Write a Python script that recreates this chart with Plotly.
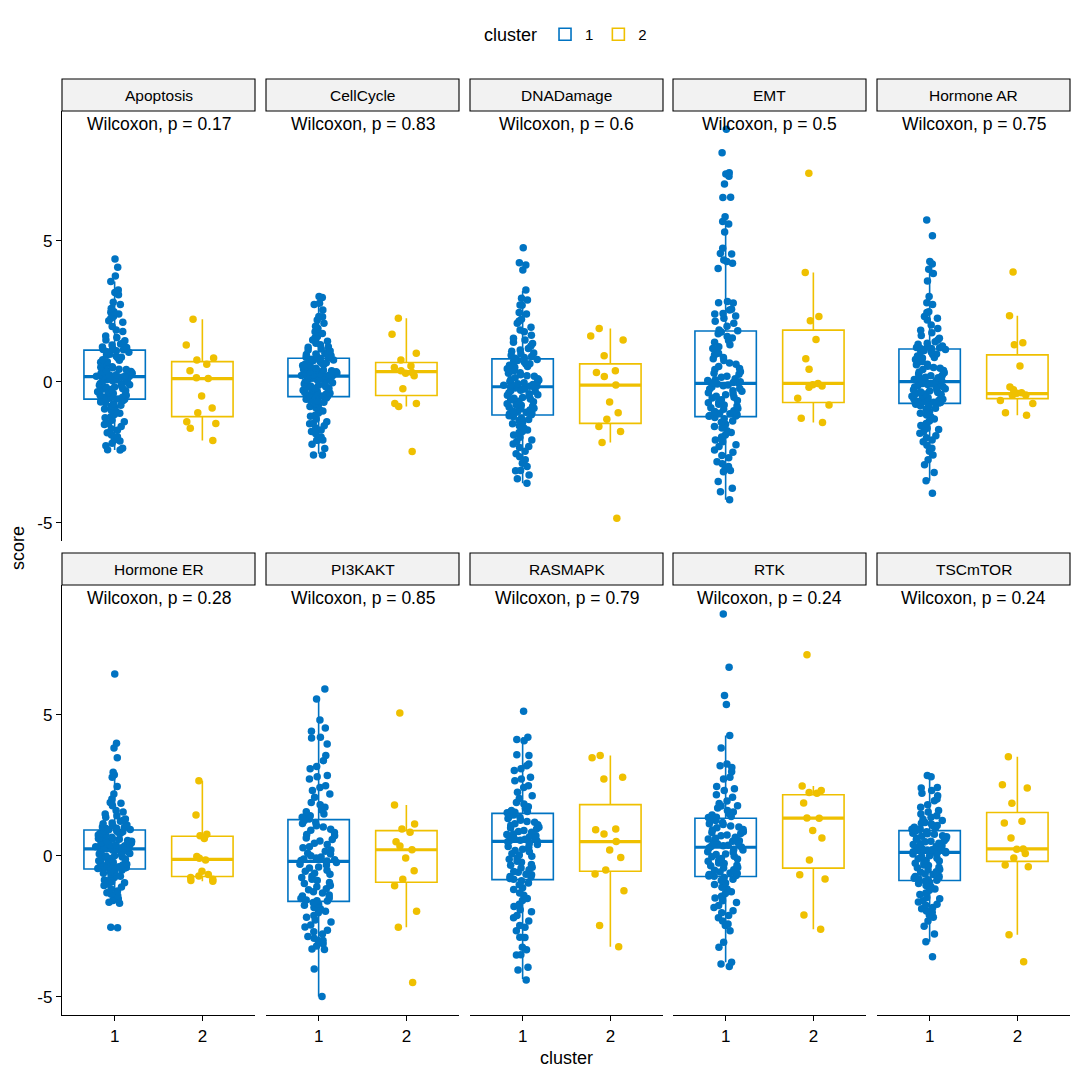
import plotly.graph_objects as go

# ---------------- data ----------------
FACETS = ["Apoptosis", "CellCycle", "DNADamage", "EMT", "Hormone AR",
          "Hormone ER", "PI3KAKT", "RASMAPK", "RTK", "TSCmTOR"]
PVALS = ["0.17", "0.83", "0.6", "0.5", "0.75", "0.28", "0.85", "0.79", "0.24", "0.24"]
CLUSTERS = ["1", "2"]
X_TICKS = [1, 2]
Y_TICK_VALS = [-5, 0, 5]
Y_TICK_TEXT = ["-5", "0", "5"]

# box statistics
C1_Q1 = [-0.61, -0.52, -1.17, -1.23, -0.76, -0.46, -1.61, -0.84, -0.73, -0.87]
C1_MED = [0.19, 0.21, -0.17, -0.05, 0.01, 0.25, -0.19, 0.52, 0.31, 0.13]
C1_Q3 = [1.13, 0.84, 0.82, 1.81, 1.17, 0.92, 1.29, 1.51, 1.34, 0.90]
C1_LO = [-2.41, -2.55, -3.59, -4.18, -3.50, -1.68, -4.98, -4.36, -3.77, -3.04]
C1_HI = [3.56, 2.79, 3.23, 5.86, 4.00, 2.95, 5.57, 4.21, 4.27, 2.85]

C2_Q1 = [-1.23, -0.48, -1.47, -0.73, -0.59, -0.73, -0.93, -0.54, -0.43, -0.19]
C2_MED = [0.12, 0.37, -0.11, -0.05, -0.41, -0.12, 0.22, 0.51, 1.34, 0.25]
C2_Q3 = [0.72, 0.69, 0.64, 1.84, 0.96, 0.70, 0.90, 1.82, 2.17, 1.54]
C2_LO = [-2.08, -0.87, -2.15, -1.44, -1.18, -0.90, -2.53, -3.22, -2.60, -2.79]
C2_HI = [2.22, 2.26, 1.90, 3.88, 2.35, 2.67, 1.81, 3.56, 2.48, 3.52]

# individual scores, cluster 1
APOPTOSIS_1 = [4.36, 4.07, 3.76, 3.56, 3.26, 3.17, 3.09, 2.83, 2.75, 2.61, 2.49, 2.47, 2.41, 2.32, 2.26, 2.17,
               2.12, 1.97, 1.84, 1.79, 1.63, 1.58, 1.49, 1.46, 1.37, 1.35, 1.31, 1.24, 1.22, 1.19, 1.15, 1.14,
               1.11, 1.07, 1.05, 0.98, 0.96, 0.91, 0.88, 0.86, 0.79, 0.77, 0.72, 0.70, 0.66, 0.61, 0.60, 0.54,
               0.52, 0.50, 0.45, 0.44, 0.39, 0.37, 0.36, 0.31, 0.30, 0.28, 0.26, 0.25, 0.22, 0.21, 0.20, 0.19,
               0.17, 0.16, 0.12, 0.09, 0.08, 0.04, 0.03, -0.01, -0.05, -0.06, -0.10, -0.12, -0.15, -0.18, -0.19,
               -0.24, -0.26, -0.27, -0.31, -0.34, -0.35, -0.39, -0.41, -0.44, -0.47, -0.48, -0.52, -0.54, -0.55,
               -0.58, -0.60, -0.61, -0.64, -0.66, -0.71, -0.74, -0.77, -0.83, -0.86, -0.90, -0.96, -1.00, -1.04,
               -1.11, -1.15, -1.23, -1.27, -1.36, -1.41, -1.47, -1.51, -1.58, -1.66, -1.71, -1.80, -1.88, -1.94,
               -2.06, -2.09, -2.17, -2.26, -2.35, -2.40, -2.41]
CELLCYCLE_1 = [3.03, 3.00, 2.79, 2.75, 2.55, 2.32, 2.31, 2.20, 2.08, 1.98, 1.90, 1.78, 1.72, 1.61, 1.57, 1.49,
               1.44, 1.37, 1.32, 1.25, 1.23, 1.17, 1.13, 1.10, 1.07, 1.01, 0.99, 0.97, 0.93, 0.90, 0.88, 0.86,
               0.83, 0.81, 0.78, 0.76, 0.75, 0.71, 0.68, 0.66, 0.64, 0.61, 0.59, 0.58, 0.55, 0.52, 0.50, 0.49,
               0.46, 0.43, 0.42, 0.40, 0.37, 0.36, 0.35, 0.32, 0.31, 0.30, 0.28, 0.26, 0.25, 0.24, 0.23, 0.22,
               0.20, 0.18, 0.15, 0.13, 0.12, 0.09, 0.06, 0.05, 0.01, -0.02, -0.03, -0.07, -0.10, -0.12, -0.14,
               -0.17, -0.20, -0.22, -0.23, -0.27, -0.29, -0.30, -0.34, -0.36, -0.37, -0.40, -0.42, -0.43, -0.46,
               -0.48, -0.50, -0.51, -0.54, -0.57, -0.61, -0.64, -0.67, -0.72, -0.76, -0.80, -0.87, -0.91, -0.99,
               -1.03, -1.10, -1.17, -1.22, -1.31, -1.41, -1.47, -1.48, -1.55, -1.63, -1.70, -1.76, -1.84, -1.95,
               -2.06, -2.06, -2.07, -2.21, -2.36, -2.59, -2.59]
DNADAMAGE_1 = [4.76, 4.23, 4.15, 3.97, 3.26, 2.97, 2.91, 2.73, 2.72, 2.46, 2.41, 2.22, 2.16, 2.08, 1.94, 1.84,
               1.78, 1.66, 1.55, 1.49, 1.41, 1.36, 1.28, 1.19, 1.13, 1.09, 1.03, 0.99, 0.95, 0.90, 0.87, 0.84,
               0.80, 0.76, 0.74, 0.70, 0.65, 0.63, 0.59, 0.55, 0.52, 0.47, 0.44, 0.41, 0.36, 0.33, 0.31, 0.26,
               0.22, 0.20, 0.15, 0.11, 0.08, 0.06, 0.02, -0.01, -0.03, -0.06, -0.09, -0.10, -0.12, -0.14, -0.15,
               -0.16, -0.19, -0.21, -0.25, -0.29, -0.31, -0.34, -0.38, -0.42, -0.45, -0.47, -0.51, -0.55, -0.58,
               -0.60, -0.64, -0.68, -0.70, -0.73, -0.77, -0.81, -0.83, -0.86, -0.90, -0.93, -0.95, -0.99, -1.03,
               -1.05, -1.07, -1.11, -1.14, -1.16, -1.20, -1.23, -1.29, -1.33, -1.37, -1.44, -1.48, -1.55, -1.63,
               -1.70, -1.76, -1.79, -1.88, -1.96, -2.06, -2.11, -2.20, -2.29, -2.32, -2.46, -2.55, -2.65, -2.76,
               -2.88, -3.00, -3.14, -3.15, -3.30, -3.43, -3.59]
EMT_1 = [8.96, 8.13, 7.42, 7.38, 7.30, 7.02, 6.55, 6.54, 5.86, 5.69, 5.60, 5.32, 4.74, 4.56, 4.54, 4.33,
         4.27, 4.21, 4.02, 2.85, 2.81, 2.80, 2.58, 2.55, 2.43, 2.41, 2.34, 2.26, 2.15, 2.08, 1.98, 1.84, 1.82,
         1.77, 1.71, 1.61, 1.56, 1.47, 1.41, 1.32, 1.25, 1.19, 1.09, 1.02, 0.96, 0.87, 0.82, 0.76, 0.67,
         0.63, 0.55, 0.48, 0.44, 0.36, 0.31, 0.27, 0.20, 0.17, 0.11, 0.08, 0.05, 0.01, -0.02, -0.03, -0.04,
         -0.07, -0.11, -0.13, -0.18, -0.23, -0.25, -0.31, -0.33, -0.38, -0.43, -0.45, -0.51, -0.54, -0.57,
         -0.63, -0.66, -0.71, -0.74, -0.79, -0.82, -0.85, -0.91, -0.94, -0.97, -1.02, -1.05, -1.11, -1.13,
         -1.16, -1.19, -1.21, -1.22, -1.26, -1.30, -1.38, -1.43, -1.50, -1.58, -1.63, -1.73, -1.79, -1.88,
         -1.95, -2.06, -2.12, -2.23, -2.29, -2.41, -2.49, -2.61, -2.69, -2.83, -2.90, -3.00, -3.06, -3.14,
         -3.18, -3.53, -3.77, -3.89, -4.18]
HORMONE_AR_1 = [5.74, 5.19, 4.27, 4.18, 4.00, 3.85, 3.58, 3.03, 2.81, 2.75, 2.49, 2.46, 2.32, 2.26, 2.20,
                2.02, 1.90, 1.83, 1.75, 1.65, 1.55, 1.49, 1.43, 1.37, 1.34, 1.28, 1.26, 1.22, 1.21, 1.19, 1.18,
                1.15, 1.12, 1.07, 1.05, 0.99, 0.97, 0.92, 0.87, 0.85, 0.80, 0.75, 0.73, 0.68, 0.63, 0.61, 0.56,
                0.51, 0.49, 0.44, 0.41, 0.35, 0.33, 0.28, 0.24, 0.22, 0.17, 0.15, 0.11, 0.09, 0.06, 0.04, 0.02,
                -0.01, -0.05, -0.07, -0.09, -0.13, -0.16, -0.18, -0.20, -0.24, -0.28, -0.29, -0.32, -0.36, -0.37,
                -0.41, -0.43, -0.44, -0.48, -0.51, -0.53, -0.56, -0.58, -0.60, -0.61, -0.64, -0.66, -0.69, -0.70,
                -0.72, -0.73, -0.74, -0.75, -0.79, -0.84, -0.87, -0.93, -0.97, -1.05, -1.11, -1.17, -1.23, -1.31,
                -1.38, -1.47, -1.54, -1.64, -1.69, -1.76, -1.82, -1.91, -1.98, -2.06, -2.12, -2.24, -2.35, -2.46,
                -2.59, -2.76, -2.94, -3.21, -3.50, -3.95]
HORMONE_ER_1 = [6.45, 4.00, 3.83, 3.48, 2.97, 2.88, 2.79, 2.46, 2.20, 2.02, 1.90, 1.87, 1.78, 1.61, 1.56,
                1.49, 1.43, 1.37, 1.31, 1.27, 1.23, 1.17, 1.14, 1.10, 1.08, 1.03, 1.01, 0.98, 0.97, 0.94, 0.93,
                0.90, 0.89, 0.86, 0.83, 0.81, 0.80, 0.77, 0.74, 0.73, 0.70, 0.67, 0.66, 0.62, 0.60, 0.59, 0.55,
                0.53, 0.52, 0.48, 0.46, 0.45, 0.42, 0.40, 0.39, 0.36, 0.34, 0.33, 0.31, 0.29, 0.28, 0.27, 0.26,
                0.23, 0.21, 0.20, 0.16, 0.14, 0.12, 0.09, 0.07, 0.04, 0.01, -0.01, -0.04, -0.06, -0.09, -0.12,
                -0.13, -0.17, -0.18, -0.22, -0.24, -0.26, -0.29, -0.31, -0.32, -0.35, -0.37, -0.38, -0.41, -0.42,
                -0.43, -0.44, -0.45, -0.48, -0.51, -0.55, -0.57, -0.61, -0.64, -0.69, -0.72, -0.76, -0.81, -0.85,
                -0.91, -0.95, -0.99, -1.05, -1.10, -1.17, -1.24, -1.30, -1.36, -1.41, -1.47, -1.53, -1.58, -1.64,
                -1.68, -2.53, -2.55]
PI3KAKT_1 = [5.92, 5.57, 4.82, 4.54, 4.42, 4.21, 4.18, 3.97, 3.56, 3.38, 3.17, 3.09, 2.85, 2.81, 2.73, 2.49,
             2.43, 2.32, 2.20, 2.08, 1.90, 1.82, 1.73, 1.63, 1.57, 1.49, 1.43, 1.37, 1.34, 1.31,
             1.26, 1.19, 1.15, 1.07, 1.03, 0.95, 0.91, 0.83, 0.76, 0.72, 0.64, 0.58, 0.53, 0.45, 0.41, 0.33,
             0.29, 0.21, 0.17, 0.10, 0.07, 0.01, -0.04, -0.07, -0.11, -0.13, -0.16, -0.18,
             -0.23, -0.29, -0.32, -0.39, -0.43, -0.51, -0.54, -0.61, -0.65, -0.72, -0.76, -0.83, -0.87, -0.94,
             -0.98, -1.05, -1.09, -1.16, -1.20, -1.27, -1.31, -1.38, -1.42, -1.49, -1.51, -1.56, -1.59, -1.60,
             -1.65, -1.71, -1.75, -1.83, -1.87, -1.96, -2.01, -2.11, -2.17, -2.27, -2.34, -2.45, -2.52, -2.63,
             -2.69, -2.77, -2.86, -2.92, -3.00, -3.00, -3.11, -3.19, -3.30, -3.32, -4.01, -4.98]
RASMAPK_1 = [5.13, 4.21, 4.13, 4.09, 3.59, 3.56, 3.26, 3.20, 3.09, 3.03, 2.79, 2.73, 2.67, 2.49, 2.43, 2.26,
             2.14, 2.04, 1.90, 1.84, 1.75, 1.69, 1.61, 1.58, 1.55, 1.53,
             1.48, 1.45, 1.39, 1.36, 1.33, 1.27, 1.22, 1.20, 1.14, 1.11, 1.08, 1.02, 0.99, 0.96, 0.90, 0.87,
             0.84, 0.78, 0.76, 0.72, 0.68, 0.66, 0.62, 0.60, 0.59, 0.56, 0.54, 0.53,
             0.50, 0.44, 0.41, 0.34, 0.31, 0.24, 0.19, 0.15, 0.08, 0.03, -0.01, -0.08, -0.12, -0.19, -0.22,
             -0.30, -0.33, -0.40, -0.43, -0.49, -0.55, -0.58, -0.65, -0.67, -0.73, -0.75, -0.80, -0.83,
             -0.88, -0.96, -1.02, -1.13, -1.19, -1.31, -1.39, -1.51, -1.58, -1.71, -1.79, -1.91, -1.98, -2.11,
             -2.19, -2.31, -2.47, -2.53, -2.65, -2.88, -2.89, -3.24, -3.33, -3.50, -3.51, -3.95, -4.04, -4.40]
RTK_1 = [8.58, 6.69, 5.69, 5.37, 4.27, 3.83, 3.26, 3.20, 3.14, 2.99, 2.79, 2.73, 2.46, 2.38, 2.32, 2.17,
         2.08, 1.95, 1.86, 1.78, 1.77, 1.70, 1.61, 1.56, 1.49, 1.45, 1.40, 1.37, 1.36,
         1.31, 1.26, 1.24, 1.19, 1.14, 1.12, 1.06, 1.03, 1.00, 0.94, 0.92, 0.86, 0.83, 0.80, 0.74, 0.72,
         0.66, 0.63, 0.60, 0.54, 0.52, 0.47, 0.45, 0.43, 0.38, 0.36, 0.34, 0.32,
         0.28, 0.23, 0.21, 0.15, 0.13, 0.07, 0.05, -0.01, -0.03, -0.09, -0.11, -0.17, -0.19, -0.25, -0.27,
         -0.33, -0.35, -0.41, -0.43, -0.49, -0.51, -0.57, -0.60, -0.62, -0.66, -0.69, -0.71, -0.72,
         -0.76, -0.83, -0.87, -0.96, -1.01, -1.11, -1.17, -1.27, -1.33, -1.43, -1.49, -1.59, -1.65, -1.76,
         -1.83, -1.94, -2.01, -2.11, -2.19, -2.31, -2.41, -2.47, -2.65, -3.06, -3.24, -3.77, -3.83, -3.92]
TSCMTOR_1 = [2.85, 2.81, 2.43, 2.41, 2.32, 2.22, 2.14, 2.02, 1.96, 1.82, 1.73, 1.61, 1.56, 1.49, 1.43, 1.37,
             1.30, 1.26, 1.19, 1.16, 1.13, 1.08, 1.06, 1.02, 1.00, 0.96, 0.95, 0.93, 0.92,
             0.88, 0.86, 0.81, 0.79, 0.77, 0.72, 0.70, 0.68, 0.63, 0.61, 0.59, 0.54, 0.52, 0.50, 0.45, 0.43,
             0.41, 0.36, 0.34, 0.32, 0.27, 0.26, 0.22, 0.21, 0.19, 0.16, 0.15, 0.14,
             0.11, 0.07, 0.06, 0.01, -0.02, -0.08, -0.10, -0.16, -0.18, -0.24, -0.26, -0.32, -0.34, -0.40,
             -0.42, -0.48, -0.50, -0.56, -0.58, -0.64, -0.66, -0.72, -0.73, -0.77, -0.79, -0.82, -0.84, -0.86,
             -0.90, -0.95, -0.98, -1.05, -1.09, -1.17, -1.22, -1.31, -1.37, -1.47, -1.52, -1.59, -1.63, -1.71,
             -1.75, -1.83, -1.87, -1.95, -2.00, -2.09, -2.17, -2.31, -2.49, -2.77, -3.04, -3.57]

# individual scores, cluster 2
APOPTOSIS_2 = [2.22, 1.31, 0.85, 0.78, 0.63, 0.40, 0.15, 0.12, -0.50, -0.92, -1.09, -1.41, -1.47, -1.64, -2.08]
CELLCYCLE_2 = [2.26, 1.69, 1.02, 0.78, 0.57, 0.51, 0.40, 0.34, 0.31, 0.22, -0.24, -0.76, -0.76, -0.87, -2.47]
DNADAMAGE_2 = [1.90, 1.63, 1.49, 0.93, 0.40, 0.34, 0.19, -0.11, -0.71, -1.09, -1.32, -1.58, -1.76, -2.15, -4.83]
EMT_2 = [7.40, 3.88, 2.32, 2.17, 1.51, 0.82, 0.45, -0.05, -0.10, -0.14, -0.19, -0.58, -0.82, -1.29, -1.44]
HORMONE_AR_2 = [3.90, 2.35, 1.39, 1.32, 0.57, -0.18, -0.28, -0.38, -0.40, -0.46, -0.47, -0.66, -0.76, -1.09, -1.18]
HORMONE_ER_2 = [2.67, 1.45, 0.77, 0.72, 0.62, -0.02, -0.08, -0.14, -0.54, -0.66, -0.71, -0.76, -0.83, -0.87, -0.90]
PI3KAKT_2 = [5.07, 1.81, 1.13, 0.96, 0.84, 0.50, 0.35, 0.22, -0.07, -0.52, -0.83, -1.06, -1.96, -2.53, -4.49]
RASMAPK_2 = [3.56, 3.48, 2.79, 2.73, 0.96, 0.93, 0.78, 0.51, 0.21, -0.05, -0.50, -0.64, -1.23, -2.47, -3.22]
RTK_2 = [7.14, 2.48, 2.32, 2.25, 2.22, 1.88, 1.35, 1.34, 0.90, 0.64, -0.14, -0.67, -0.82, -2.09, -2.60]
TSCMTOR_2 = [3.52, 2.53, 2.41, 1.87, 1.23, 1.17, 0.64, 0.25, 0.24, 0.09, -0.07, -0.32, -0.38, -2.79, -3.75]

SCORES_1 = [APOPTOSIS_1, CELLCYCLE_1, DNADAMAGE_1, EMT_1, HORMONE_AR_1,
            HORMONE_ER_1, PI3KAKT_1, RASMAPK_1, RTK_1, TSCMTOR_1]
SCORES_2 = [APOPTOSIS_2, CELLCYCLE_2, DNADAMAGE_2, EMT_2, HORMONE_AR_2,
            HORMONE_ER_2, PI3KAKT_2, RASMAPK_2, RTK_2, TSCMTOR_2]

# ---------------- style ----------------
W = H = 1080
OFF = 8  # page body margin of the html page
FONT = "Liberation Sans, Arial, Helvetica, sans-serif"
COLORS = ["#0073C2", "#EFC000"]
COL_PX = [(62, 255), (266, 459), (470, 663), (673, 866), (877, 1070)]
ROW_PX = [(111, 541), (585, 1015)]
STRIP_PX = 32
Y_RANGE = [-5.64, 9.61]
X_RANGE = [0.4, 2.6]


def px(v):
    return (v - OFF) / W


def py(v):
    return 1 - (v - OFF) / H


fig = go.Figure()
layout = dict(
    width=W, height=H,
    margin=dict(l=0, r=0, t=0, b=0),
    paper_bgcolor="white", plot_bgcolor="white",
    font=dict(family=FONT, color="black"),
    showlegend=True, boxmode="overlay",
    shapes=[], annotations=[],
)

for i, name in enumerate(FACETS):
    r, c = divmod(i, 5)
    k = i + 1
    sx = "" if k == 1 else str(k)
    xref, yref = "x" + sx, "y" + sx
    x0, x1 = COL_PX[c]
    ytop, ybot = ROW_PX[r]

    layout["xaxis" + sx] = dict(
        domain=[px(x0), px(x1)], range=X_RANGE, anchor=yref, fixedrange=True,
        showgrid=False, zeroline=False,
        showline=(r == 1), linecolor="black", linewidth=1.3,
        ticks="outside" if r == 1 else "", ticklen=5, tickwidth=1.3, tickcolor="black",
        tickvals=X_TICKS, ticktext=CLUSTERS, showticklabels=(r == 1),
        tickfont=dict(size=17, color="black", family=FONT),
    )
    layout["yaxis" + sx] = dict(
        domain=[py(ybot), py(ytop)], range=Y_RANGE, anchor=xref, fixedrange=True,
        showgrid=False, zeroline=False,
        showline=(c == 0), linecolor="black", linewidth=1.3,
        ticks="outside" if c == 0 else "", ticklen=5, tickwidth=1.3, tickcolor="black",
        tickvals=Y_TICK_VALS, ticktext=Y_TICK_TEXT, showticklabels=(c == 0),
        tickfont=dict(size=17, color="black", family=FONT),
    )

    stats = [
        (C1_Q1[i], C1_MED[i], C1_Q3[i], C1_LO[i], C1_HI[i], SCORES_1[i]),
        (C2_Q1[i], C2_MED[i], C2_Q3[i], C2_LO[i], C2_HI[i], SCORES_2[i]),
    ]
    for j, (q1, med, q3, lo, hi, vals) in enumerate(stats):
        col = COLORS[j]
        xpos = X_TICKS[j]
        # box (precomputed statistics)
        fig.add_trace(go.Box(
            x=[xpos], q1=[q1], median=[med], q3=[q3], lowerfence=[lo], upperfence=[hi],
            orientation="v", width=0.7, whiskerwidth=0, boxpoints=False,
            line=dict(color=col, width=1.6), fillcolor="white",
            name=CLUSTERS[j], legendgroup=CLUSTERS[j], showlegend=(i == 0),
            xaxis=xref, yaxis=yref, hoverinfo="skip",
        ))
        # thicker median line
        fig.add_trace(go.Box(
            x=[xpos], q1=[med], median=[med], q3=[med], lowerfence=[med], upperfence=[med],
            orientation="v", width=0.7, whiskerwidth=0, boxpoints=False,
            line=dict(color=col, width=3.2), fillcolor="rgba(0,0,0,0)",
            legendgroup=CLUSTERS[j], showlegend=False,
            xaxis=xref, yaxis=yref, hoverinfo="skip",
        ))
        # jittered points
        fig.add_trace(go.Box(
            x=[xpos] * len(vals), y=vals, orientation="v",
            boxpoints="all", jitter=1.0, pointpos=0, width=0.46, whiskerwidth=0,
            line=dict(color="rgba(0,0,0,0)", width=0), fillcolor="rgba(0,0,0,0)",
            marker=dict(color=col, size=7.5, line=dict(width=0)),
            legendgroup=CLUSTERS[j], showlegend=False,
            xaxis=xref, yaxis=yref, hoverinfo="skip",
        ))

    # strip
    layout["shapes"].append(dict(
        type="rect", xref="paper", yref="paper",
        x0=px(x0), x1=px(x1), y0=py(ytop), y1=py(ytop - STRIP_PX),
        fillcolor="#F2F2F2", line=dict(color="black", width=1.1), layer="above",
    ))
    layout["annotations"].append(dict(
        text=name, xref="paper", yref="paper",
        x=px((x0 + x1) / 2), y=py(ytop - STRIP_PX / 2),
        showarrow=False, xanchor="center", yanchor="middle",
        font=dict(size=15.5, color="black", family=FONT),
    ))
    # test label
    layout["annotations"].append(dict(
        text="Wilcoxon, p = " + PVALS[i], xref=xref, yref=yref,
        x=1.5, y=9.15, showarrow=False, xanchor="center", yanchor="middle",
        font=dict(size=17.5, color="black", family=FONT),
    ))

layout["annotations"].append(dict(
    text="score", xref="paper", yref="paper", x=px(18), y=py(548),
    textangle=-90, showarrow=False, xanchor="center", yanchor="middle",
    font=dict(size=18, color="black", family=FONT),
))
layout["annotations"].append(dict(
    text="cluster", xref="paper", yref="paper", x=px(566), y=py(1058),
    showarrow=False, xanchor="center", yanchor="middle",
    font=dict(size=18, color="black", family=FONT),
))
layout["legend"] = dict(
    orientation="h", x=px(567), xanchor="center", y=py(35), yanchor="middle",
    title=dict(text="cluster", font=dict(size=18, family=FONT, color="black")),
    font=dict(size=15, family=FONT, color="black"),
    bgcolor="rgba(0,0,0,0)", itemwidth=30,
)

fig.update_layout(**layout)
fig.write_html("out.html")
